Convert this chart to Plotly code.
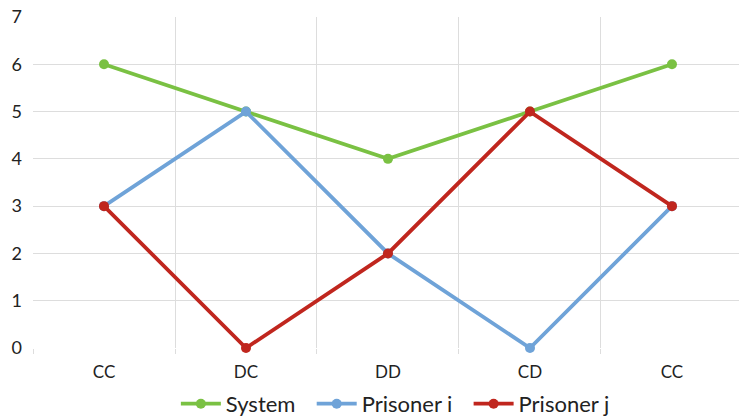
import plotly.graph_objects as go

categories = ["CC", "DC", "DD", "CD", "CC "]
tick_labels = ["CC", "DC", "DD", "CD", "CC"]
system = [6, 5, 4, 5, 6]
prisoner_i = [3, 5, 2, 0, 3]
prisoner_j = [3, 0, 2, 5, 3]

series = [
    ("System", system, "#7AC143"),
    ("Prisoner i", prisoner_i, "#6FA3D8"),
    ("Prisoner j", prisoner_j, "#C0261E"),
]

pad = "\u00a0\u00a0"
fig = go.Figure()
for i, (name, vals, col) in enumerate(series):
    fig.add_trace(go.Scatter(
        x=categories, y=vals, name=name + (pad if i < len(series) - 1 else ""),
        mode="lines+markers",
        line=dict(color=col, width=3.8),
        marker=dict(color=col, size=10),
        cliponaxis=False,
    ))

font = dict(family="Lato, 'Open Sans', sans-serif", size=17, color="#222222")
fig.update_layout(
    width=739, height=419,
    margin=dict(l=33, r=0, t=17, b=71, autoexpand=False),
    paper_bgcolor="white", plot_bgcolor="white",
    font=font,
    showlegend=True,
    legend=dict(orientation="h", x=0.535, xanchor="center", xref="container",
                y=0.036, yanchor="middle", yref="container",
                font=dict(family="Lato, 'Open Sans', sans-serif", size=22, color="#222222"),
                itemwidth=40, tracegroupgap=0),
)
fig.update_xaxes(
    type="category", tickmode="array", tickvals=categories, ticktext=tick_labels,
    tickson="boundaries", showgrid=True, gridcolor="#DDDDDD", gridwidth=1,
    ticks="outside", ticklen=5, tickcolor="#DDDDDD", ticklabelstandoff=12,
    range=[-0.5, 4.472], showline=False, zeroline=False, automargin=False,
    tickfont=dict(size=17),
)
fig.update_yaxes(
    range=[0, 7], dtick=1, showgrid=True, gridcolor="#DDDDDD", gridwidth=1,
    zeroline=False, showline=False, ticks="", ticklabelstandoff=10, automargin=False,
    tickfont=dict(size=18),
)
fig.write_html("out.html")
